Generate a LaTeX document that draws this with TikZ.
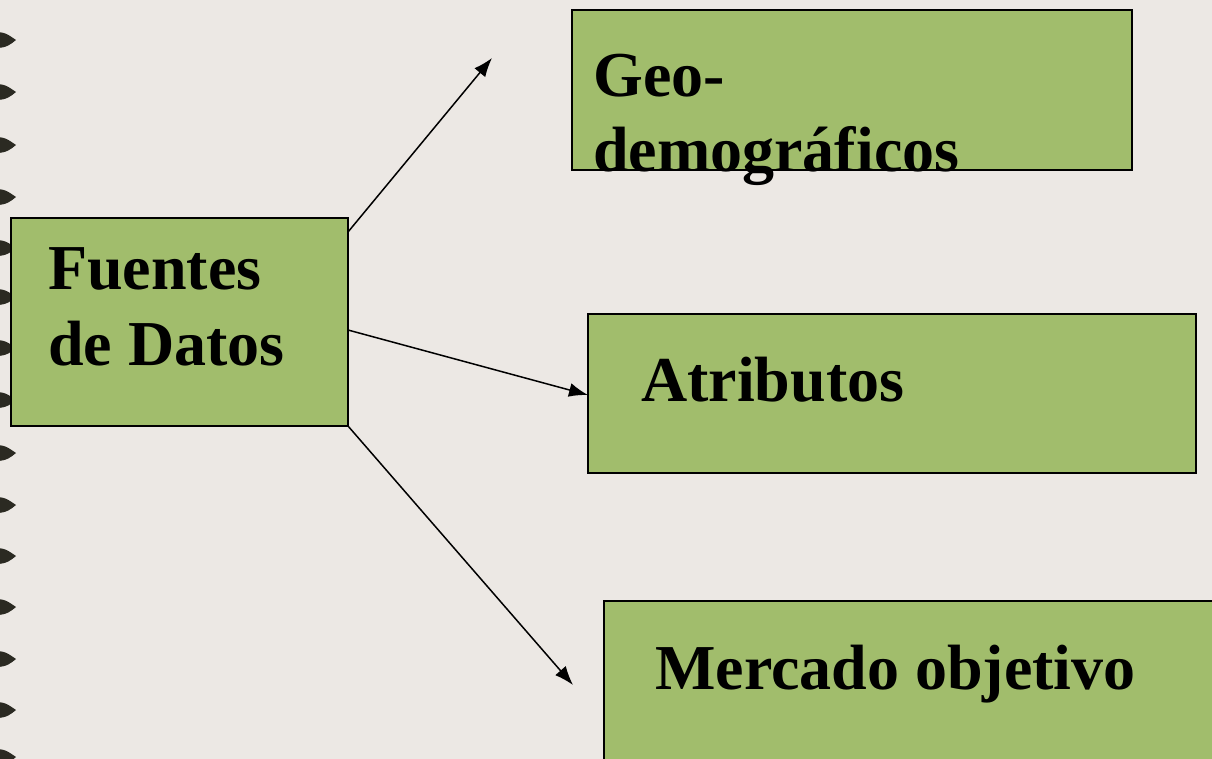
\documentclass[tikz,border=0pt]{standalone}
\usepackage{fontspec}
\setmainfont{Liberation Serif}
\usetikzlibrary{arrows.meta}
\definecolor{bg}{HTML}{ECE8E4}
\definecolor{boxgreen}{HTML}{A1BD6C}
\definecolor{ring}{HTML}{2B2A22}
\tikzset{
  box/.style={draw=black, line width=2pt, fill=boxgreen, anchor=north west, inner sep=0pt, outer sep=0pt},
  txt/.style={anchor=base west, inner sep=0pt, font=\fontsize{64}{75}\bfseries\selectfont},
  conn/.style={line width=1.5pt, -{Latex[length=19pt,width=14pt]}},
  ringdot/.style={fill=ring}
}
\begin{document}
\begin{tikzpicture}[x=1pt,y=-1pt]
\useasboundingbox (0,0) rectangle (1212,759);
\clip (0,0) rectangle (1212,759);
\fill[bg] (0,0) rectangle (1212,759);
% binding rings
\foreach \yy in {40,92,145,197,248,297,348,400,453,505,556,607,659,710,757}{
  \fill[ringdot] (-4,\yy-8) .. controls (7,\yy-8) and (11,\yy-3) .. (16,\yy) .. controls (11,\yy+4) and (7,\yy+8) .. (-4,\yy+8) -- cycle;
}
% boxes
\node[box, minimum width=337pt, minimum height=208pt] (fuentes) at (11,218) {};
\node[box, minimum width=560pt, minimum height=160pt] (geo) at (572,10) {};
\node[box, minimum width=608pt, minimum height=159pt] (atrib) at (588,314) {};
\node[box, minimum width=700pt, minimum height=220pt] (merc) at (604,601) {};
% texts
\node[txt] (t1) at (48,290) {Fuentes};
\node[txt] (t2) at (48,365) {de Datos};
\node[txt] (t3) at (593,97) {Geo-};
\node[txt] (t4) at (593,172) {demográficos};
\node[txt] (t5) at (641,401) {Atributos};
\node[txt] (t6) at (655,689) {Mercado objetivo};
% connectors
\coordinate (e1) at (492,58);
\coordinate (e3) at (573,685);
\draw[conn] ([yshift=-14pt]fuentes.north east) -- (e1);
\draw[conn] ([yshift=-112pt]fuentes.north east) -- (atrib.west |- 0,395);
\draw[conn] (fuentes.south east) -- (e3);
\end{tikzpicture}
\end{document}
